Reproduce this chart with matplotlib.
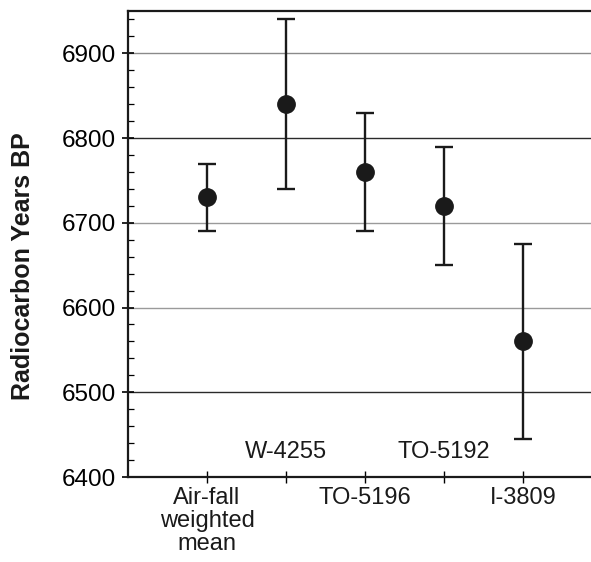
import numpy as np
import matplotlib.pyplot as plt
from matplotlib.ticker import MultipleLocator

plt.rcParams['font.family'] = ['Liberation Sans', 'DejaVu Sans']

# ---- data ----
samples = ['Air-fall\nweighted\nmean', 'W-4255', 'TO-5196', 'TO-5192', 'I-3809']
label_high = [False, True, False, True, False]   # labels drawn inside the axes
ages = [6730, 6840, 6760, 6720, 6560]
errors = [40, 100, 70, 70, 115]
grid_levels = [6500, 6600, 6700, 6800, 6900]
grid_colors = ['#2a2a2a', '#9a9a9a', '#9a9a9a', '#2a2a2a', '#8a8a8a']

xpos = np.arange(1, len(samples) + 1)

fig = plt.figure(figsize=(5.91, 5.62), dpi=100)
ax = fig.add_axes([128/591, 85/562, 463/591, 466/562])

for lvl, col in zip(grid_levels, grid_colors):
    ax.axhline(lvl, color=col, linewidth=1.0, zorder=1)

ax.errorbar(xpos, ages, yerr=errors, fmt='o', color='#1a1a1a',
            markersize=12.5, elinewidth=1.7, capsize=6.5, capthick=1.7, zorder=3)

ax.set_xlim(0, 5.86)
ax.set_ylim(6400, 6950)
ax.yaxis.set_major_locator(MultipleLocator(100))
ax.yaxis.set_minor_locator(MultipleLocator(20))
ax.set_xticks(xpos)
ax.set_xticklabels([])

ax.tick_params(axis='y', which='major', direction='inout', length=9, width=1.2,
               labelsize=17.5, pad=4)
ax.tick_params(axis='y', which='minor', direction='in', length=4, width=0.9)
ax.tick_params(axis='x', which='major', direction='inout', length=9, width=1.0)

for s in ['left', 'bottom', 'top']:
    ax.spines[s].set_linewidth(1.6)
    ax.spines[s].set_color('#1a1a1a')
ax.spines['right'].set_visible(False)

# staggered category labels
for x, name, high in zip(xpos, samples, label_high):
    if high:
        ax.text(x, 6417, name, ha='center', va='bottom', fontsize=17,
                color='#1a1a1a')
    else:
        ax.annotate(name, xy=(x, 6400), xycoords='data', xytext=(0, -7),
                    textcoords='offset points', ha='center', va='top',
                    fontsize=17, linespacing=1.08, color='#1a1a1a',
                    annotation_clip=False)

ax.set_ylabel('Radiocarbon Years BP', fontsize=18, fontweight='bold',
              color='#1a1a1a')
ax.yaxis.set_label_coords(-0.227, 0.452)
ax.yaxis.label.set_verticalalignment('center')
ax.yaxis.label.set_horizontalalignment('center')

fig.savefig('out.png', dpi=100)
